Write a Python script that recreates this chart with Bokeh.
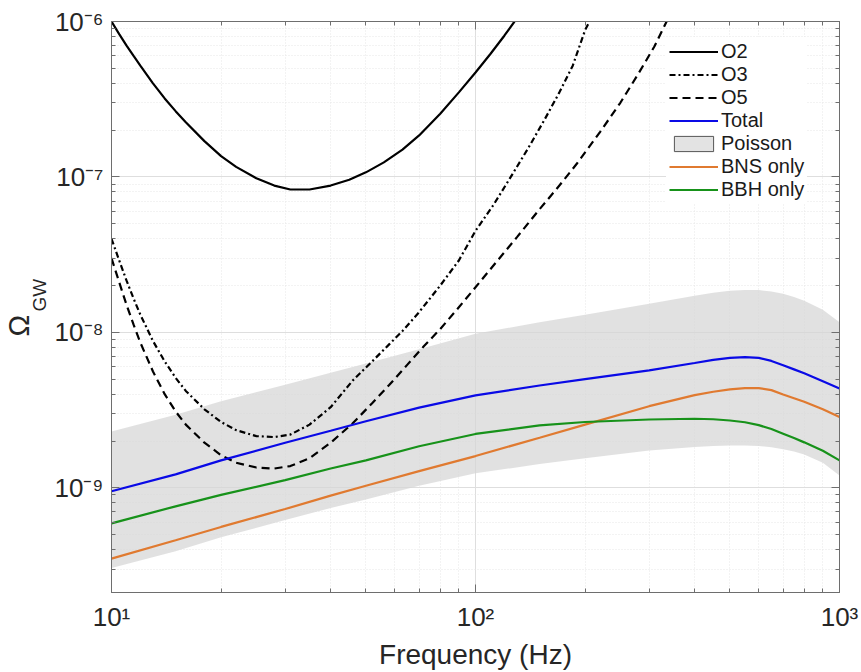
import numpy as np
from bokeh.plotting import figure
from bokeh.models import (Range1d, LogAxis, FixedTicker, CustomJSTickFormatter,
                          Legend, LegendItem, Title)
from bokeh.embed import file_html
from bokeh.resources import INLINE

# ---------------- data ----------------
freq_o2 = [10, 10.5, 11, 11.5, 12, 13, 14, 15, 16, 18, 20, 22, 25, 28, 31, 35, 40,
           45, 50, 56, 63, 70, 80, 90, 100, 110, 120, 128]
omega_o2 = [1.0e-6, 8.3e-7, 7.0e-7, 6.0e-7, 5.2e-7, 4.0e-7, 3.2e-7, 2.65e-7, 2.25e-7,
            1.7e-7, 1.36e-7, 1.16e-7, 9.8e-8, 8.8e-8, 8.3e-8, 8.3e-8, 8.8e-8, 9.6e-8,
            1.07e-7, 1.24e-7, 1.5e-7, 1.85e-7, 2.55e-7, 3.5e-7, 4.7e-7, 6.2e-7, 8.1e-7,
            1.0e-6]

freq_o3 = [10, 10.5, 11, 11.5, 12, 13, 14, 15, 16, 18, 20, 22, 25, 28, 31, 35, 40, 46,
           52, 58, 63, 70, 80, 90, 100, 112, 125, 140, 155, 170, 185, 200, 208]
omega_o3 = [4.0e-8, 2.9e-8, 2.15e-8, 1.65e-8, 1.3e-8, 8.8e-9, 6.5e-9, 5.1e-9, 4.2e-9,
            3.2e-9, 2.65e-9, 2.35e-9, 2.15e-9, 2.12e-9, 2.2e-9, 2.55e-9, 3.3e-9, 4.9e-9,
            6.5e-9, 8.4e-9, 1.02e-8, 1.35e-8, 2.0e-8, 2.9e-8, 4.5e-8, 6.6e-8, 1.0e-7,
            1.55e-7, 2.35e-7, 3.5e-7, 5.2e-7, 8.8e-7, 1.05e-6]

freq_o5 = [10, 10.5, 11, 11.5, 12, 13, 14, 15, 16, 18, 20, 22, 25, 28, 31, 35, 40, 46,
           52, 58, 65, 72, 80, 90, 100, 115, 130, 150, 170, 190, 220, 250, 280, 310, 335]
omega_o5 = [3.0e-8, 2.1e-8, 1.5e-8, 1.12e-8, 8.6e-9, 5.6e-9, 4.0e-9, 3.1e-9, 2.55e-9,
            1.95e-9, 1.62e-9, 1.45e-9, 1.35e-9, 1.33e-9, 1.38e-9, 1.55e-9, 1.95e-9,
            2.6e-9, 3.5e-9, 4.6e-9, 6.2e-9, 8.1e-9, 1.05e-8, 1.45e-8, 1.95e-8, 2.9e-8,
            4.1e-8, 6.2e-8, 8.8e-8, 1.22e-7, 1.95e-7, 3.0e-7, 4.6e-7, 6.9e-7, 1.0e-6]

freq_pop = [10, 15, 20, 30, 40, 50, 70, 100, 150, 200, 300, 400, 450, 500, 550, 600,
            650, 700, 750, 800, 900, 1000]
omega_total = [9.5e-10, 1.22e-9, 1.50e-9, 1.95e-9, 2.33e-9, 2.68e-9, 3.28e-9, 3.93e-9,
               4.55e-9, 5.0e-9, 5.7e-9, 6.35e-9, 6.65e-9, 6.85e-9, 6.93e-9, 6.85e-9,
               6.55e-9, 6.15e-9, 5.78e-9, 5.45e-9, 4.85e-9, 4.35e-9]
omega_bns = [3.5e-10, 4.6e-10, 5.6e-10, 7.3e-10, 8.9e-10, 1.03e-9, 1.28e-9, 1.6e-9,
             2.1e-9, 2.55e-9, 3.35e-9, 3.95e-9, 4.15e-9, 4.3e-9, 4.38e-9, 4.38e-9,
             4.25e-9, 3.98e-9, 3.77e-9, 3.58e-9, 3.2e-9, 2.85e-9]
omega_bbh = [5.9e-10, 7.6e-10, 9.0e-10, 1.12e-9, 1.33e-9, 1.5e-9, 1.85e-9, 2.22e-9,
             2.52e-9, 2.65e-9, 2.75e-9, 2.78e-9, 2.76e-9, 2.71e-9, 2.64e-9, 2.53e-9,
             2.39e-9, 2.23e-9, 2.09e-9, 1.96e-9, 1.73e-9, 1.5e-9]
poisson_hi = [2.3e-9, 2.95e-9, 3.6e-9, 4.6e-9, 5.5e-9, 6.3e-9, 7.8e-9, 9.8e-9, 1.16e-8,
              1.3e-8, 1.53e-8, 1.72e-8, 1.8e-8, 1.85e-8, 1.87e-8, 1.87e-8, 1.83e-8,
              1.77e-8, 1.69e-8, 1.6e-8, 1.4e-8, 1.16e-8]
poisson_lo = [3.05e-10, 3.9e-10, 4.8e-10, 6.2e-10, 7.4e-10, 8.4e-10, 1.03e-9, 1.24e-9,
              1.42e-9, 1.55e-9, 1.74e-9, 1.83e-9, 1.86e-9, 1.87e-9, 1.87e-9, 1.86e-9,
              1.82e-9, 1.77e-9, 1.71e-9, 1.64e-9, 1.45e-9, 1.2e-9]

x_ticks = [10, 100, 1000]
x_tick_labels = ["10\u00b9", "10\u00b2", "10\u00b3"]
y_ticks = [1e-9, 1e-8, 1e-7, 1e-6]
y_tick_labels = ["10\u207b\u2079", "10\u207b\u2078", "10\u207b\u2077", "10\u207b\u2076"]

# ---------------- figure ----------------
FONT = "Liberation Sans"
AX = "#6e6e6e"

p = figure(width=861, height=672, x_axis_type="log", y_axis_type="log",
           x_range=Range1d(10, 1000), y_range=Range1d(2.12e-10, 1e-6),
           output_backend="svg", toolbar_location=None,
           min_border_left=111, min_border_right=22, min_border_top=21,
           min_border_bottom=79)
p.outline_line_color = AX
p.outline_line_width = 1
p.background_fill_color = "white"
p.border_fill_color = "white"

x_minor = [k * 10.0 ** e for e in (1, 2) for k in range(2, 10)]
y_minor = [k * 10.0 ** e for e in (-10, -9, -8, -7) for k in range(2, 10)]

def fmt(vals, labs):
    return CustomJSTickFormatter(args=dict(vals=vals, labs=labs), code="""
        for (let i = 0; i < vals.length; i++) {
            if (Math.abs(Math.log10(tick) - Math.log10(vals[i])) < 1e-6) return labs[i];
        }
        return "";
    """)

blank = CustomJSTickFormatter(code="return '';")

def style_axis(ax, labels=True):
    ax.major_tick_in = 8
    ax.major_tick_out = 0
    ax.minor_tick_in = 4
    ax.minor_tick_out = 0
    ax.axis_line_color = AX
    ax.major_tick_line_color = AX
    ax.minor_tick_line_color = AX
    ax.major_label_text_font = FONT
    ax.major_label_text_font_size = "26px"
    ax.major_label_text_color = "#262626"
    if not labels:
        ax.major_label_standoff = 0

xt = FixedTicker(ticks=x_ticks, minor_ticks=x_minor)
yt = FixedTicker(ticks=y_ticks, minor_ticks=y_minor)

p.xaxis.ticker = xt
p.yaxis.ticker = yt
p.xaxis.formatter = fmt(x_ticks, x_tick_labels)
p.yaxis.formatter = fmt(y_ticks, y_tick_labels)
style_axis(p.xaxis[0])
style_axis(p.yaxis[0])
p.xaxis.major_label_standoff = 9
p.yaxis.major_label_standoff = 8
p.xaxis.axis_label = "Frequency (Hz)"
p.xaxis.axis_label_text_font = FONT
p.xaxis.axis_label_text_font_size = "28px"
p.xaxis.axis_label_text_font_style = "normal"
p.xaxis.axis_label_text_color = "#262626"
p.xaxis.axis_label_standoff = 4

top = LogAxis(ticker=FixedTicker(ticks=x_ticks, minor_ticks=x_minor), formatter=blank)
right = LogAxis(ticker=FixedTicker(ticks=y_ticks, minor_ticks=y_minor), formatter=blank)
style_axis(top, labels=False)
style_axis(right, labels=False)
p.add_layout(top, "above")
p.add_layout(right, "right")

# y-axis label: Omega with subscript GW (stacked titles in the left panel)
p.add_layout(Title(text="GW", align="left", offset=281, standoff=4,
                   text_font=FONT, text_font_size="19px", text_font_style="normal",
                   text_color="#262626"), "left")
p.add_layout(Title(text="\u03a9", align="left", offset=256, standoff=-20,
                   text_font=FONT, text_font_size="29px", text_font_style="normal",
                   text_color="#262626"), "left")

for g in (p.xgrid, p.ygrid):
    g.grid_line_color = "#dedede"
    g.grid_line_width = 1
    g.minor_grid_line_color = "#e6e6e6"
    g.minor_grid_line_dash = "1 2"

# ---------------- glyphs ----------------
band = p.varea(x=freq_pop, y1=poisson_lo, y2=poisson_hi, fill_color="#d6d6d6",
               fill_alpha=0.72)
band_x = freq_pop + freq_pop[::-1]
band_y = poisson_lo + poisson_hi[::-1]
band_leg = p.patch(x=band_x, y=band_y, fill_color="#e3e3e3", line_color="#555555",
                   line_width=1, visible=False)

r_o2 = p.line(freq_o2, omega_o2, line_color="black", line_width=2.2)
r_o3 = p.line(freq_o3, omega_o3, line_color="black", line_width=2.2,
              line_dash="6 3 2 3")
r_o5 = p.line(freq_o5, omega_o5, line_color="black", line_width=2.2,
              line_dash="8 5")
r_tot = p.line(freq_pop, omega_total, line_color="#0a0ae6", line_width=2.2)
r_bns = p.line(freq_pop, omega_bns, line_color="#e07a30", line_width=2.2)
r_bbh = p.line(freq_pop, omega_bbh, line_color="#17921a", line_width=2.2)

legend = Legend(items=[
    LegendItem(label="O2", renderers=[r_o2]),
    LegendItem(label="O3", renderers=[r_o3]),
    LegendItem(label="O5", renderers=[r_o5]),
    LegendItem(label="Total", renderers=[r_tot]),
    LegendItem(label="Poisson", renderers=[band_leg]),
    LegendItem(label="BNS only", renderers=[r_bns]),
    LegendItem(label="BBH only", renderers=[r_bbh]),
], location=(555, 388))
legend.label_text_font = FONT
legend.label_text_font_size = "20px"
legend.label_text_color = "#1a1a1a"
legend.glyph_width = 49
legend.glyph_height = 19
legend.label_height = 18
legend.spacing = 0
legend.padding = 3
legend.margin = 0
legend.label_standoff = 3
legend.border_line_alpha = 0
legend.background_fill_color = "white"
legend.background_fill_alpha = 1
p.add_layout(legend)

open("out.html", "w").write(file_html(p, INLINE))
